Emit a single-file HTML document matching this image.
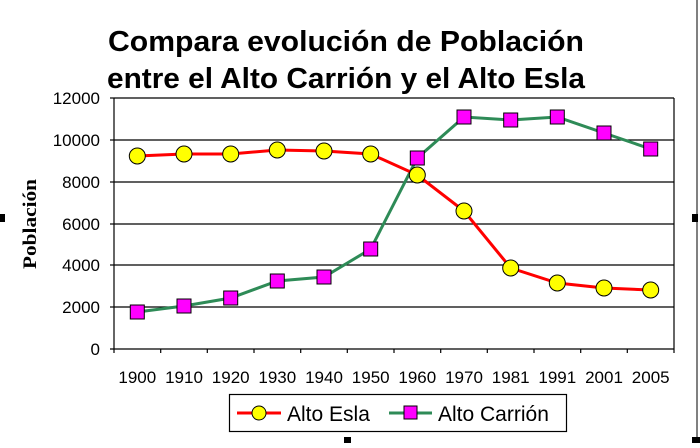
<!DOCTYPE html><html><head><style>body{margin:0;background:#fff}</style></head><body>
<svg width="700" height="443" xmlns="http://www.w3.org/2000/svg" font-family="Liberation Sans, Arial, sans-serif">
<rect x="0" y="0" width="700" height="443" fill="#fff"/>
<line x1="697" y1="0" x2="697" y2="443" stroke="#000" stroke-width="1"/>
<rect x="0" y="214" width="5" height="8" fill="#000"/>
<rect x="692" y="214" width="6" height="8" fill="#000"/>
<rect x="344" y="437" width="7" height="6" fill="#000"/>
<rect x="692" y="437" width="8" height="6" fill="#000"/>
<text x="346" y="51" font-size="29" font-weight="bold" text-anchor="middle" textLength="476" lengthAdjust="spacingAndGlyphs">Compara evolución de Población</text>
<text x="346" y="88" font-size="29" font-weight="bold" text-anchor="middle" textLength="478" lengthAdjust="spacingAndGlyphs">entre el Alto Carrión y el Alto Esla</text>
<text transform="translate(36,224) rotate(-90)" font-family="Liberation Serif, serif" font-size="19" font-weight="bold" text-anchor="middle" textLength="90" lengthAdjust="spacingAndGlyphs">Población</text>
<g stroke="#000" stroke-width="1.2">
<line x1="114" y1="98" x2="674" y2="98"/><line x1="114" y1="140" x2="674" y2="140"/><line x1="114" y1="182" x2="674" y2="182"/><line x1="114" y1="224" x2="674" y2="224"/><line x1="114" y1="265" x2="674" y2="265"/><line x1="114" y1="307" x2="674" y2="307"/>
<line x1="114" y1="98" x2="114" y2="353"/><line x1="674" y1="98" x2="674" y2="353"/><line x1="110" y1="349" x2="674" y2="349"/>
<line x1="110" y1="98" x2="114" y2="98"/><line x1="110" y1="140" x2="114" y2="140"/><line x1="110" y1="182" x2="114" y2="182"/><line x1="110" y1="224" x2="114" y2="224"/><line x1="110" y1="265" x2="114" y2="265"/><line x1="110" y1="307" x2="114" y2="307"/>
<line x1="160.7" y1="349" x2="160.7" y2="353"/><line x1="207.3" y1="349" x2="207.3" y2="353"/><line x1="254" y1="349" x2="254" y2="353"/><line x1="300.7" y1="349" x2="300.7" y2="353"/><line x1="347.3" y1="349" x2="347.3" y2="353"/><line x1="394" y1="349" x2="394" y2="353"/><line x1="440.7" y1="349" x2="440.7" y2="353"/><line x1="487.3" y1="349" x2="487.3" y2="353"/><line x1="534" y1="349" x2="534" y2="353"/><line x1="580.7" y1="349" x2="580.7" y2="353"/><line x1="627.3" y1="349" x2="627.3" y2="353"/>
</g>
<g font-size="17" text-anchor="end">
<text x="100" y="104">12000</text><text x="100" y="146">10000</text><text x="100" y="188">8000</text><text x="100" y="230">6000</text><text x="100" y="271">4000</text><text x="100" y="313">2000</text><text x="100" y="355">0</text>
</g>
<g font-size="17" text-anchor="middle">
<text x="137.3" y="383">1900</text><text x="184" y="383">1910</text><text x="230.7" y="383">1920</text><text x="277.3" y="383">1930</text><text x="324" y="383">1940</text><text x="370.7" y="383">1950</text><text x="417.3" y="383">1960</text><text x="464" y="383">1970</text><text x="510.7" y="383">1981</text><text x="557.3" y="383">1991</text><text x="604" y="383">2001</text><text x="650.7" y="383">2005</text>
</g>
<polyline fill="none" stroke="#2e8b57" stroke-width="3" points="137.3,312 184,306 230.7,298 277.3,281 324,277 370.7,249 417.3,158 464,117 510.7,120 557.3,117 604,133 650.7,149"/>
<polyline fill="none" stroke="#ff0000" stroke-width="3" points="137.3,156 184,154 230.7,154 277.3,150 324,151 370.7,154 417.3,175 464,211 510.7,268 557.3,283 604,288 650.7,290"/>
<g fill="#ffff00" stroke="#000" stroke-width="1">
<circle cx="137.3" cy="156" r="8"/><circle cx="184" cy="154" r="8"/><circle cx="230.7" cy="154" r="8"/><circle cx="277.3" cy="150" r="8"/><circle cx="324" cy="151" r="8"/><circle cx="370.7" cy="154" r="8"/><circle cx="417.3" cy="175" r="8"/><circle cx="464" cy="211" r="8"/><circle cx="510.7" cy="268" r="8"/><circle cx="557.3" cy="283" r="8"/><circle cx="604" cy="288" r="8"/><circle cx="650.7" cy="290" r="8"/>
</g>
<g fill="#ff00ff" stroke="#000" stroke-width="1">
<rect x="130.3" y="305" width="14" height="14"/><rect x="177" y="299" width="14" height="14"/><rect x="223.7" y="291" width="14" height="14"/><rect x="270.3" y="274" width="14" height="14"/><rect x="317" y="270" width="14" height="14"/><rect x="363.7" y="242" width="14" height="14"/><rect x="410.3" y="151" width="14" height="14"/><rect x="457" y="110" width="14" height="14"/><rect x="503.7" y="113" width="14" height="14"/><rect x="550.3" y="110" width="14" height="14"/><rect x="597" y="126" width="14" height="14"/><rect x="643.7" y="142" width="14" height="14"/>
</g>
<rect x="229.5" y="394.5" width="337" height="37" fill="#fff" stroke="#000" stroke-width="1.2"/>
<line x1="237" y1="413" x2="281" y2="413" stroke="#ff0000" stroke-width="3"/>
<circle cx="259" cy="413" r="7" fill="#ffff00" stroke="#000"/>
<text x="287" y="421" font-size="21">Alto Esla</text>
<line x1="389" y1="413" x2="432" y2="413" stroke="#2e8b57" stroke-width="3"/>
<rect x="404" y="406" width="13" height="13" fill="#ff00ff" stroke="#000"/>
<text x="438" y="421" font-size="21">Alto Carrión</text>
</svg>
</body></html>
